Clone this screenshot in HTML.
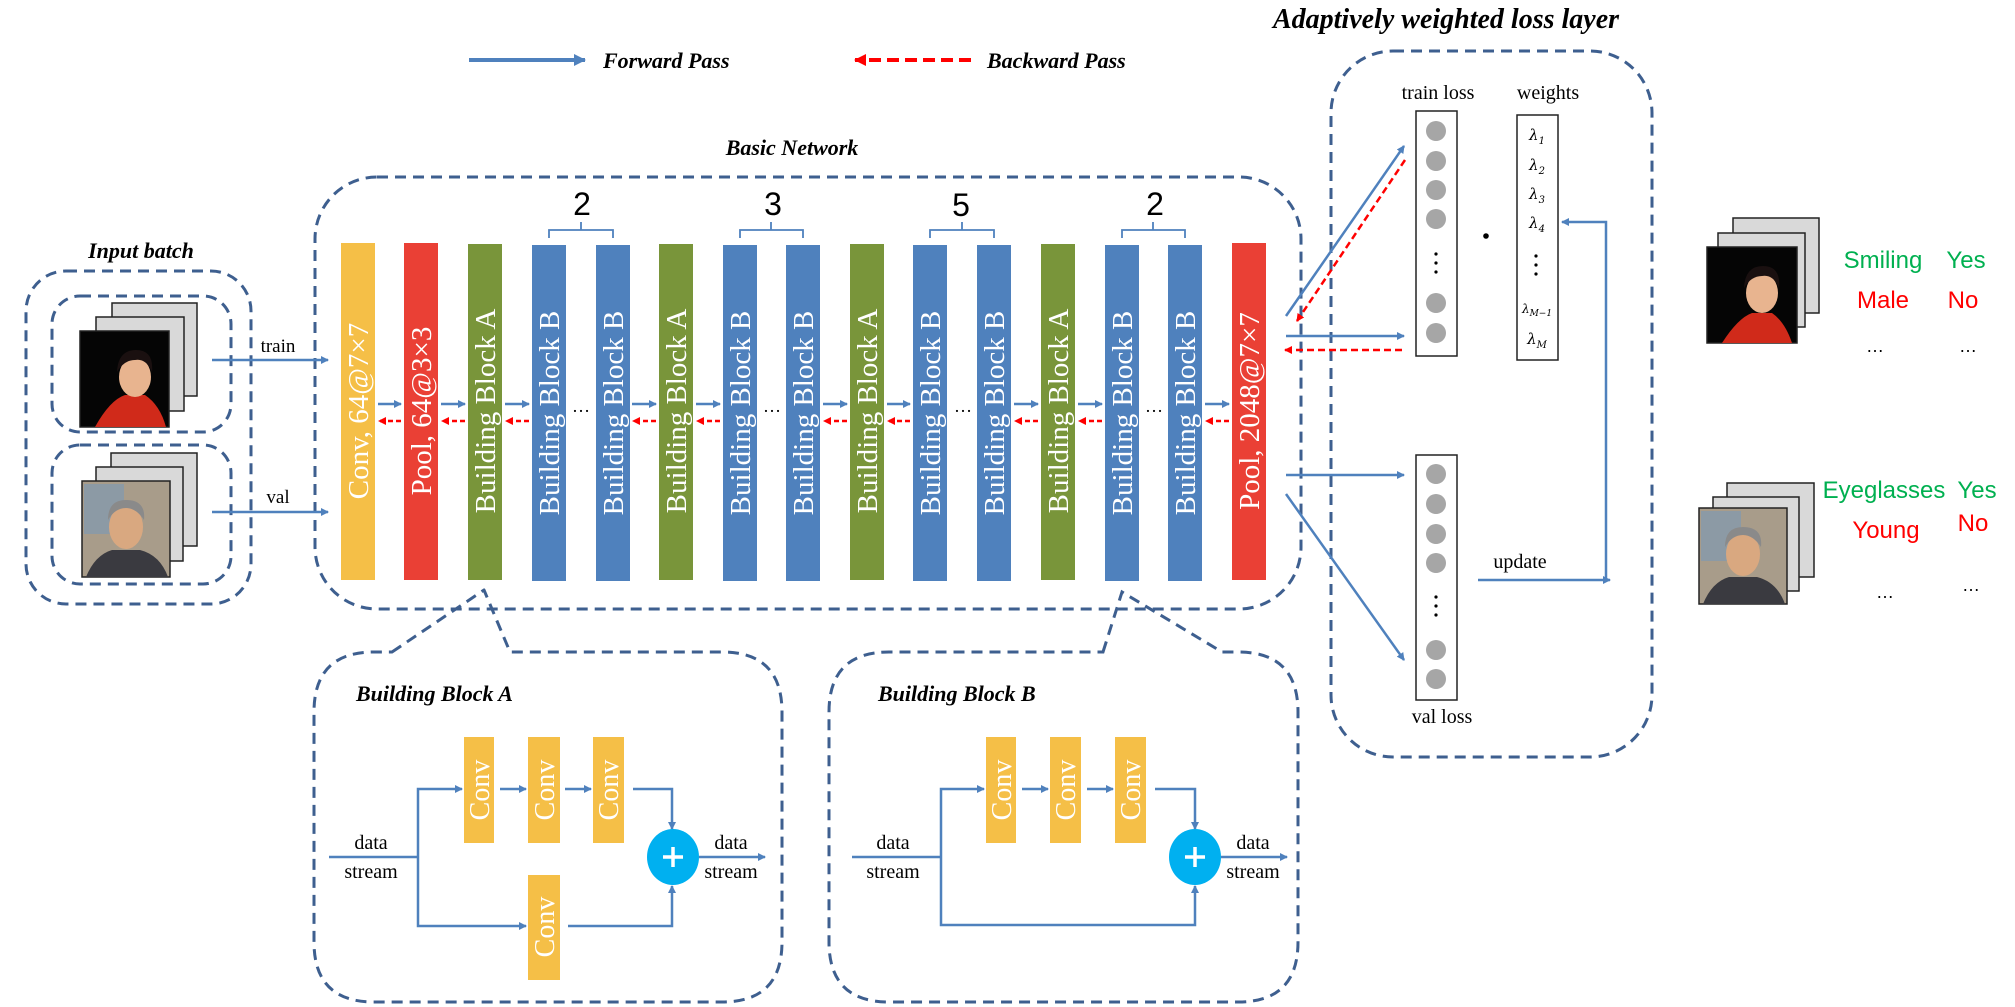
<!DOCTYPE html>
<html><head><meta charset="utf-8"><style>
html,body{margin:0;padding:0;background:#fff;}
svg{display:block;}
</style></head><body>
<svg width="2015" height="1007" viewBox="0 0 2015 1007" xmlns="http://www.w3.org/2000/svg">
<defs>
<marker id="ab" markerWidth="8" markerHeight="8" refX="7" refY="4" orient="auto" markerUnits="userSpaceOnUse"><path d="M0,0 L8,4 L0,8 z" fill="#4F81BD"/></marker>
<marker id="ar" markerWidth="8" markerHeight="8" refX="7" refY="4" orient="auto" markerUnits="userSpaceOnUse"><path d="M0,0 L8,4 L0,8 z" fill="#FF0000"/></marker>
<marker id="abig" markerWidth="12" markerHeight="12" refX="11" refY="6" orient="auto" markerUnits="userSpaceOnUse"><path d="M0,0 L12,6 L0,12 z" fill="#4F81BD"/></marker>
<marker id="arbig" markerWidth="12" markerHeight="12" refX="11" refY="6" orient="auto" markerUnits="userSpaceOnUse"><path d="M0,0 L12,6 L0,12 z" fill="#FF0000"/></marker>
</defs>

<!-- Legend -->
<line x1="469" y1="60" x2="585" y2="60" stroke="#4F81BD" stroke-width="4" marker-end="url(#abig)"/>
<text x="603" y="68" font-family="Liberation Serif" font-weight="bold" font-style="italic" font-size="22">Forward Pass</text>
<line x1="971" y1="60" x2="855" y2="60" stroke="#FF0000" stroke-width="4" stroke-dasharray="12,6" marker-end="url(#arbig)"/>
<text x="987" y="68" font-family="Liberation Serif" font-weight="bold" font-style="italic" font-size="22">Backward Pass</text>
<text x="1446" y="28" text-anchor="middle" font-family="Liberation Serif" font-weight="bold" font-style="italic" font-size="28">Adaptively weighted loss layer</text>
<text x="792" y="155" text-anchor="middle" font-family="Liberation Serif" font-weight="bold" font-style="italic" font-size="22">Basic Network</text>

<g fill="none" stroke="#3E5F8F" stroke-width="3" stroke-dasharray="11,7">
<!-- Input batch -->
<rect x="26" y="271" width="225" height="333" rx="40"/>
<rect x="52" y="296" width="179" height="136" rx="28"/>
<rect x="52" y="445" width="179" height="139" rx="28"/>
<!-- Basic network -->
<rect x="315" y="177" width="986" height="432" rx="62"/>
<!-- loss layer -->
<rect x="1331" y="51" width="321" height="706" rx="62"/>
<!-- Block A callout -->
<path d="M392,652 L484,590 L510,652 L722,652 Q782,652 782,712 L782,942 Q782,1002 722,1002 L374,1002 Q314,1002 314,942 L314,712 Q314,652 374,652 Z" stroke-linejoin="round"/>
<!-- Block B callout -->
<path d="M1103,652 L1122,592 L1222,652 L1238,652 Q1298,652 1298,712 L1298,942 Q1298,1002 1238,1002 L889,1002 Q829,1002 829,942 L829,712 Q829,652 889,652 Z"/>
</g>

<!-- image stacks left -->
<g stroke="#222" stroke-width="1.5">
<rect x="112" y="303" width="85" height="93" fill="#D9D9D9"/>
<rect x="96" y="317" width="88" height="94" fill="#D9D9D9"/>
<rect x="80" y="331" width="89" height="96" fill="#050505"/>
<rect x="111" y="453" width="86" height="93" fill="#D9D9D9"/>
<rect x="96" y="467" width="87" height="94" fill="#D9D9D9"/>
<rect x="82" y="481" width="88" height="96" fill="#A89C8A"/>
</g>
<!-- faces left -->
<path d="M95,427 Q110,400 125,395 L145,395 Q160,405 166,427 Z" fill="#D02A1A"/>
<ellipse cx="135" cy="377" rx="16" ry="20" fill="#E8B48F"/>
<path d="M117,372 Q118,350 136,350 Q154,350 152,372 Q146,358 135,360 Q124,360 117,372Z" fill="#1A1010"/>
<rect x="84" y="484" width="40" height="50" fill="#7A9AB8" opacity="0.6"/>
<path d="M86,577 Q95,555 112,550 L140,550 Q160,555 168,577 Z" fill="#3A3A40"/>
<ellipse cx="126" cy="527" rx="17" ry="22" fill="#D9A880"/>
<path d="M108,520 Q108,500 126,500 Q146,500 144,520 Q136,508 126,508 Q115,508 108,520Z" fill="#8A8A8A"/>

<!-- train/val arrows -->
<line x1="212" y1="360" x2="328" y2="360" stroke="#4F81BD" stroke-width="2.5" marker-end="url(#ab)"/>
<text x="278" y="352" text-anchor="middle" font-family="Liberation Serif" font-size="19">train</text>
<line x1="212" y1="512" x2="328" y2="512" stroke="#4F81BD" stroke-width="2.5" marker-end="url(#ab)"/>
<text x="278" y="503" text-anchor="middle" font-family="Liberation Serif" font-size="19">val</text>

<!-- bars -->
<g font-family="Liberation Serif" font-size="29" fill="#fff" text-anchor="middle">
<rect x="341" y="243" width="34" height="337" fill="#F5BF47"/>
<text transform="translate(358,411) rotate(-90)" dy="10">Conv, 64@7×7</text>
<rect x="404" y="243" width="34" height="337" fill="#EA4035"/>
<text transform="translate(421,411) rotate(-90)" dy="10">Pool, 64@3×3</text>
<rect x="468" y="244" width="34" height="336" fill="#79953A"/>
<text transform="translate(485,411) rotate(-90)" dy="10">Building Block A</text>
<rect x="532" y="245" width="34" height="336" fill="#4F81BD"/>
<text transform="translate(549,413) rotate(-90)" dy="10">Building Block B</text>
<rect x="596" y="245" width="34" height="336" fill="#4F81BD"/>
<text transform="translate(613,413) rotate(-90)" dy="10">Building Block B</text>
<rect x="659" y="244" width="34" height="336" fill="#79953A"/>
<text transform="translate(676,411) rotate(-90)" dy="10">Building Block A</text>
<rect x="723" y="245" width="34" height="336" fill="#4F81BD"/>
<text transform="translate(740,413) rotate(-90)" dy="10">Building Block B</text>
<rect x="786" y="245" width="34" height="336" fill="#4F81BD"/>
<text transform="translate(803,413) rotate(-90)" dy="10">Building Block B</text>
<rect x="850" y="244" width="34" height="336" fill="#79953A"/>
<text transform="translate(867,411) rotate(-90)" dy="10">Building Block A</text>
<rect x="913" y="245" width="34" height="336" fill="#4F81BD"/>
<text transform="translate(930,413) rotate(-90)" dy="10">Building Block B</text>
<rect x="977" y="245" width="34" height="336" fill="#4F81BD"/>
<text transform="translate(994,413) rotate(-90)" dy="10">Building Block B</text>
<rect x="1041" y="244" width="34" height="336" fill="#79953A"/>
<text transform="translate(1058,411) rotate(-90)" dy="10">Building Block A</text>
<rect x="1105" y="245" width="34" height="336" fill="#4F81BD"/>
<text transform="translate(1122,413) rotate(-90)" dy="10">Building Block B</text>
<rect x="1168" y="245" width="34" height="336" fill="#4F81BD"/>
<text transform="translate(1185,413) rotate(-90)" dy="10">Building Block B</text>
<rect x="1232" y="243" width="34" height="337" fill="#EA4035"/>
<text transform="translate(1249,411) rotate(-90)" dy="10">Pool, 2048@7×7</text>
</g>

<!-- small arrows between bars -->
<g stroke-width="2.5">
<g stroke="#4F81BD">
<line x1="378" y1="404" x2="401" y2="404" marker-end="url(#ab)"/>
<line x1="441" y1="404" x2="465" y2="404" marker-end="url(#ab)"/>
<line x1="505" y1="404" x2="529" y2="404" marker-end="url(#ab)"/>
<line x1="632" y1="404" x2="656" y2="404" marker-end="url(#ab)"/>
<line x1="696" y1="404" x2="720" y2="404" marker-end="url(#ab)"/>
<line x1="823" y1="404" x2="847" y2="404" marker-end="url(#ab)"/>
<line x1="887" y1="404" x2="910" y2="404" marker-end="url(#ab)"/>
<line x1="1014" y1="404" x2="1038" y2="404" marker-end="url(#ab)"/>
<line x1="1078" y1="404" x2="1102" y2="404" marker-end="url(#ab)"/>
<line x1="1205" y1="404" x2="1229" y2="404" marker-end="url(#ab)"/>
</g>
<g stroke="#FF0000" stroke-dasharray="5,3">
<line x1="401" y1="421" x2="379" y2="421" marker-end="url(#ar)"/>
<line x1="465" y1="421" x2="442" y2="421" marker-end="url(#ar)"/>
<line x1="529" y1="421" x2="506" y2="421" marker-end="url(#ar)"/>
<line x1="656" y1="421" x2="633" y2="421" marker-end="url(#ar)"/>
<line x1="720" y1="421" x2="697" y2="421" marker-end="url(#ar)"/>
<line x1="847" y1="421" x2="824" y2="421" marker-end="url(#ar)"/>
<line x1="910" y1="421" x2="888" y2="421" marker-end="url(#ar)"/>
<line x1="1038" y1="421" x2="1015" y2="421" marker-end="url(#ar)"/>
<line x1="1102" y1="421" x2="1079" y2="421" marker-end="url(#ar)"/>
<line x1="1229" y1="421" x2="1206" y2="421" marker-end="url(#ar)"/>
</g>
</g>
<g font-family="Liberation Serif" font-size="18" text-anchor="middle">
<text x="581" y="412">…</text><text x="772" y="412">…</text><text x="963" y="412">…</text><text x="1154" y="412">…</text>
</g>

<!-- braces and numbers -->
<g fill="none" stroke="#4F81BD" stroke-width="1.8">
<path d="M549,238 L549,230 L613,230 L613,238 M581,230 L581,222"/>
<path d="M740,238 L740,230 L803,230 L803,238 M771,230 L771,222"/>
<path d="M930,238 L930,230 L994,230 L994,238 M962,230 L962,222"/>
<path d="M1122,238 L1122,230 L1185,230 L1185,238 M1153,230 L1153,222"/>
</g>
<g font-family="Liberation Sans" font-size="32" text-anchor="middle">
<text x="582" y="215">2</text><text x="773" y="215">3</text><text x="961" y="216">5</text><text x="1155" y="215">2</text>
</g>
<text x="141" y="258" text-anchor="middle" font-family="Liberation Serif" font-weight="bold" font-style="italic" font-size="22">Input batch</text>

<!-- loss layer contents -->
<rect x="1416" y="111" width="41" height="245" fill="#fff" stroke="#222" stroke-width="1.5"/>
<rect x="1517" y="115" width="41" height="245" fill="#fff" stroke="#222" stroke-width="1.5"/>
<rect x="1416" y="455" width="41" height="245" fill="#fff" stroke="#222" stroke-width="1.5"/>
<g fill="#A6A6A6">
<circle cx="1436" cy="131" r="10"/><circle cx="1436" cy="161" r="10"/><circle cx="1436" cy="190" r="10"/><circle cx="1436" cy="219" r="10"/>
<circle cx="1436" cy="303" r="10"/><circle cx="1436" cy="333" r="10"/>
<circle cx="1436" cy="474" r="10"/><circle cx="1436" cy="504" r="10"/><circle cx="1436" cy="534" r="10"/><circle cx="1436" cy="563" r="10"/>
<circle cx="1436" cy="650" r="10"/><circle cx="1436" cy="679" r="10"/>
</g>
<g fill="#000">
<circle cx="1436" cy="254" r="1.6"/><circle cx="1436" cy="263" r="1.6"/><circle cx="1436" cy="272" r="1.6"/>
<circle cx="1436" cy="597" r="1.6"/><circle cx="1436" cy="606" r="1.6"/><circle cx="1436" cy="615" r="1.6"/>
<circle cx="1536" cy="256" r="1.6"/><circle cx="1536" cy="265" r="1.6"/><circle cx="1536" cy="274" r="1.6"/>
<circle cx="1486" cy="236" r="2.8"/>
</g>
<g font-family="Liberation Serif" font-size="20" text-anchor="middle">
<text x="1438" y="99">train loss</text>
<text x="1548" y="99">weights</text>
<text x="1442" y="723">val loss</text>
<text x="1520" y="568">update</text>
</g>
<g font-family="DejaVu Serif" font-style="italic" font-size="15" text-anchor="middle">
<text x="1537" y="140">λ<tspan font-size="10" dy="4">1</tspan></text>
<text x="1537" y="170">λ<tspan font-size="10" dy="4">2</tspan></text>
<text x="1537" y="199">λ<tspan font-size="10" dy="4">3</tspan></text>
<text x="1537" y="228">λ<tspan font-size="10" dy="4">4</tspan></text>
<text x="1537" y="313" font-size="12">λ<tspan font-size="9" dy="3">M−1</tspan></text>
<text x="1537" y="344">λ<tspan font-size="10" dy="4">M</tspan></text>
</g>
<g stroke="#4F81BD" stroke-width="2.5" fill="none">
<line x1="1286" y1="316" x2="1404" y2="146" marker-end="url(#ab)"/>
<line x1="1286" y1="336" x2="1404" y2="336" marker-end="url(#ab)"/>
<line x1="1286" y1="475" x2="1404" y2="475" marker-end="url(#ab)"/>
<line x1="1286" y1="494" x2="1404" y2="660" marker-end="url(#ab)"/>
<path d="M1478,580 L1610,580" marker-end="url(#ab)"/>
<path d="M1606,580 L1606,222 L1562,222" marker-end="url(#ab)"/>
</g>
<g stroke="#FF0000" stroke-width="2.5" stroke-dasharray="7,4" fill="none">
<line x1="1405" y1="160" x2="1297" y2="321" marker-end="url(#ar)"/>
<line x1="1402" y1="350" x2="1285" y2="350" marker-end="url(#ar)"/>
</g>

<!-- right stacks -->
<g stroke="#222" stroke-width="1.5">
<rect x="1733" y="218" width="86" height="95" fill="#D9D9D9"/>
<rect x="1718" y="233" width="87" height="94" fill="#D9D9D9"/>
<rect x="1707" y="247" width="90" height="96" fill="#050505"/>
<rect x="1727" y="483" width="87" height="94" fill="#D9D9D9"/>
<rect x="1713" y="497" width="86" height="94" fill="#D9D9D9"/>
<rect x="1699" y="508" width="88" height="96" fill="#A89C8A"/>
</g>
<path d="M1722,343 Q1738,318 1752,313 L1772,313 Q1785,322 1792,343 Z" fill="#D02A1A"/>
<ellipse cx="1762" cy="293" rx="16" ry="20" fill="#E8B48F"/>
<path d="M1744,288 Q1745,266 1763,266 Q1781,266 1779,288 Q1773,274 1762,276 Q1751,276 1744,288Z" fill="#1A1010"/>
<rect x="1701" y="511" width="40" height="50" fill="#7A9AB8" opacity="0.6"/>
<path d="M1703,604 Q1712,582 1729,577 L1757,577 Q1777,582 1785,604 Z" fill="#3A3A40"/>
<ellipse cx="1743" cy="554" rx="17" ry="22" fill="#D9A880"/>
<path d="M1725,547 Q1725,527 1743,527 Q1763,527 1761,547 Q1753,535 1743,535 Q1732,535 1725,547Z" fill="#8A8A8A"/>

<g font-family="Liberation Sans" font-size="24" text-anchor="middle">
<text x="1883" y="268" fill="#00B050">Smiling</text>
<text x="1966" y="268" fill="#00B050">Yes</text>
<text x="1883" y="308" fill="#FF0000">Male</text>
<text x="1963" y="308" fill="#FF0000">No</text>
<text x="1875" y="352" fill="#000" font-size="18">…</text>
<text x="1968" y="352" fill="#000" font-size="18">…</text>
<text x="1884" y="498" fill="#00B050">Eyeglasses</text>
<text x="1977" y="498" fill="#00B050">Yes</text>
<text x="1886" y="538" fill="#FF0000">Young</text>
<text x="1973" y="531" fill="#FF0000">No</text>
<text x="1885" y="598" fill="#000" font-size="18">…</text>
<text x="1971" y="591" fill="#000" font-size="18">…</text>
</g>

<!-- Building Block A -->
<text x="356" y="701" font-family="Liberation Serif" font-weight="bold" font-style="italic" font-size="22">Building Block A</text>
<g fill="#F5BF47">
<rect x="464" y="737" width="30" height="106"/><rect x="528" y="737" width="32" height="106"/><rect x="593" y="737" width="31" height="106"/>
<rect x="528" y="875" width="32" height="105"/>
<rect x="986" y="737" width="30" height="106"/><rect x="1050" y="737" width="31" height="106"/><rect x="1115" y="737" width="31" height="106"/>
</g>
<g font-family="Liberation Serif" font-size="28" fill="#fff" text-anchor="middle">
<text transform="translate(479,790) rotate(-90)" dy="10">Conv</text>
<text transform="translate(544,790) rotate(-90)" dy="10">Conv</text>
<text transform="translate(608,790) rotate(-90)" dy="10">Conv</text>
<text transform="translate(544,927) rotate(-90)" dy="10">Conv</text>
<text transform="translate(1001,790) rotate(-90)" dy="10">Conv</text>
<text transform="translate(1065,790) rotate(-90)" dy="10">Conv</text>
<text transform="translate(1130,790) rotate(-90)" dy="10">Conv</text>
</g>
<g stroke="#4F81BD" stroke-width="2.5" fill="none">
<path d="M329,857 L418,857"/>
<path d="M418,857 L418,789 L462,789" marker-end="url(#ab)"/>
<path d="M418,857 L418,926 L526,926" marker-end="url(#ab)"/>
<line x1="500" y1="789" x2="526" y2="789" marker-end="url(#ab)"/>
<line x1="565" y1="789" x2="591" y2="789" marker-end="url(#ab)"/>
<path d="M633,789 L672,789 L672,829" marker-end="url(#ab)"/>
<path d="M568,926 L672,926 L672,886" marker-end="url(#ab)"/>
<line x1="699" y1="857" x2="765" y2="857" marker-end="url(#ab)"/>

<path d="M852,857 L941,857"/>
<path d="M941,857 L941,789 L984,789" marker-end="url(#ab)"/>
<line x1="1022" y1="789" x2="1048" y2="789" marker-end="url(#ab)"/>
<line x1="1087" y1="789" x2="1113" y2="789" marker-end="url(#ab)"/>
<path d="M1155,789 L1195,789 L1195,829" marker-end="url(#ab)"/>
<path d="M941,857 L941,925 L1195,925 L1195,886" marker-end="url(#ab)"/>
<line x1="1221" y1="857" x2="1287" y2="857" marker-end="url(#ab)"/>
</g>
<ellipse cx="673" cy="857" rx="26" ry="28" fill="#00B0F0"/>
<ellipse cx="1195" cy="857" rx="26" ry="28" fill="#00B0F0"/>
<g stroke="#fff" stroke-width="3.5">
<line x1="663" y1="857" x2="683" y2="857"/><line x1="673" y1="847" x2="673" y2="867"/>
<line x1="1185" y1="857" x2="1205" y2="857"/><line x1="1195" y1="847" x2="1195" y2="867"/>
</g>
<g font-family="Liberation Serif" font-size="20" text-anchor="middle">
<text x="371" y="849">data</text><text x="371" y="878">stream</text>
<text x="731" y="849">data</text><text x="731" y="878">stream</text>
<text x="893" y="849">data</text><text x="893" y="878">stream</text>
<text x="1253" y="849">data</text><text x="1253" y="878">stream</text>
</g>
<text x="878" y="701" font-family="Liberation Serif" font-weight="bold" font-style="italic" font-size="22">Building Block B</text>
</svg>
</body></html>
